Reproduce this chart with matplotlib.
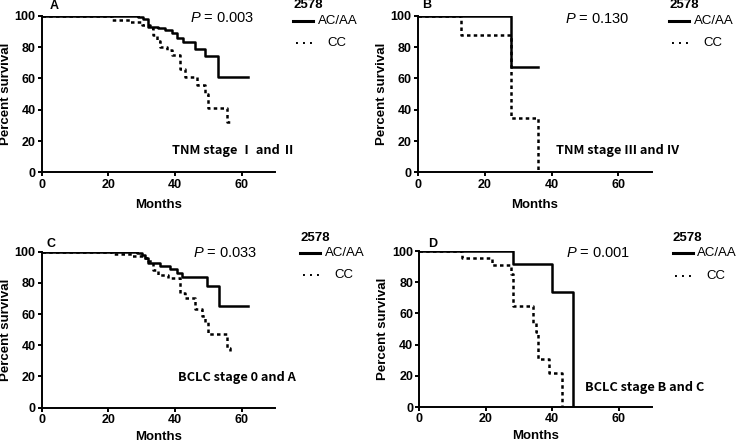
import matplotlib
matplotlib.use("Agg")
import matplotlib.pyplot as plt
from matplotlib.lines import Line2D

plt.rcParams["font.family"] = ["Liberation Sans", "DejaVu Sans"]
plt.rcParams["mathtext.fontset"] = "custom"
plt.rcParams["mathtext.it"] = "Liberation Sans:italic"
plt.rcParams["mathtext.rm"] = "Liberation Sans"

# panel A: TNM stage I and II
a_acaa_t = [0, 29, 30.5, 32, 35, 37, 39, 40.5, 42.5, 46, 49, 53, 62]
a_acaa_s = [100, 99, 98, 93, 92, 91, 89, 86, 83, 79, 74, 61, 61]
a_cc_t = [0, 21, 26.5, 30, 32.5, 33.5, 34.5, 35.5, 37.5, 39, 41.5, 43, 46.5, 49, 50, 55.5, 56.5]
a_cc_s = [100, 97, 96, 94, 92, 88, 84, 80, 78, 75, 66, 61, 56, 50, 41, 32, 30]

# panel B: TNM stage III and IV
b_acaa_t = [0, 28, 36]
b_acaa_s = [100, 67, 67]
b_cc_t = [0, 13, 28, 36]
b_cc_s = [100, 87.5, 35, 0]

# panel C: BCLC stage 0 and A
c_acaa_t = [0, 28.5, 30, 31, 32, 35.5, 38.5, 40.5, 42, 49.5, 53.3, 62]
c_acaa_s = [100, 99, 98, 96, 93, 91, 89, 86.5, 84, 78, 65, 65]
c_cc_t = [0, 21, 27, 30.5, 32, 33.5, 35, 38, 41.5, 43, 46, 48, 49, 50, 55.5, 56.5]
c_cc_s = [100, 98.5, 97.5, 96, 94, 88, 85, 83, 73.5, 70, 63, 59, 55, 47, 38, 35]

# panel D: BCLC stage B and C
d_acaa_t = [0, 28.1, 40, 46.2]
d_acaa_s = [100, 92, 74, 0]
d_cc_t = [0, 13, 21.9, 27.6, 28.1, 34.2, 35.2, 35.8, 39, 43]
d_cc_s = [100, 95.5, 91, 85.5, 65, 54, 48, 31, 22, 0]

panels = [
    ("A", "0.003", "TNM stage \u2160 and \u2161", a_acaa_t, a_acaa_s, a_cc_t, a_cc_s,
     [0.0567, 0.610, 0.317, 0.3544], (44.5, 98.3), (39, 14.2), (0.036, 1.06), (1.077, 1.068), 6),
    ("B", "0.130", "TNM stage \u2162 and \u2163", b_acaa_t, b_acaa_s, b_cc_t, b_cc_s,
     [0.5675, 0.610, 0.3183, 0.3544], (43.9, 98.0), (41.2, 14.2), (0.02, 1.07), (1.073, 1.068), 6),
    ("C", "0.033", "BCLC stage 0 and A", c_acaa_t, c_acaa_s, c_cc_t, c_cc_s,
     [0.0567, 0.0776, 0.317, 0.353], (45.3, 99.0), (40.9, 19.2), (0.02, 1.05), (1.107, 1.09), 3.5),
    ("D", "0.001", "BCLC stage B and C", d_acaa_t, d_acaa_s, d_cc_t, d_cc_s,
     [0.5697, 0.079, 0.316, 0.353], (44.3, 98.5), (49.8, 12.4), (0.036, 1.045), (1.089, 1.085), 3.5),
]

dotted = (0, (1.4, 1.3))

fig = plt.figure(figsize=(7.36, 4.42), dpi=100)
for (lab, pval, stage, st, ss, ct, cs, rect, ppos, spos, lpos, legpos, xpad) in panels:
    ax = fig.add_axes(rect)
    ax.step(st, ss, where="post", color="black", lw=1.8)
    ax.step(ct, cs, where="post", color="black", lw=1.8, linestyle=dotted)
    ax.set_xlim(0, 70)
    ax.set_ylim(0, 100)
    ax.set_xticks([0, 20, 40, 60])
    ax.set_yticks([0, 20, 40, 60, 80, 100])
    for s in ["top", "right"]:
        ax.spines[s].set_visible(False)
    for s in ["left", "bottom"]:
        ax.spines[s].set_linewidth(1.4)
    ax.tick_params(direction="out", length=3, width=1.4, labelsize=9, pad=1.5)
    for t in ax.get_xticklabels() + ax.get_yticklabels():
        t.set_fontweight("bold")
    ax.set_xlabel("Months", fontsize=9.5, fontweight="bold", labelpad=xpad)
    ax.set_ylabel("Percent survival", fontsize=9.5, fontweight="bold", labelpad=2)

    ax.text(lpos[0], lpos[1], lab, transform=ax.transAxes, fontsize=9,
            fontweight="bold", ha="left", va="center")
    ax.text(ppos[0], ppos[1], "$\\it{P}$ = " + pval, fontsize=10.5,
            ha="left", va="center")
    ax.text(spos[0], spos[1], stage, fontsize=9.2, fontweight="bold",
            ha="left", va="center", family=["Noto Sans CJK SC", "DejaVu Sans"])

    lx, ly = legpos
    ax.text(lx, ly, "2578", transform=ax.transAxes, fontsize=9.5,
            fontweight="bold", ha="left", va="center")
    ax.add_line(Line2D([lx, lx + 0.086], [ly - 0.1, ly - 0.1], transform=ax.transAxes,
                       color="black", lw=2.2, clip_on=False))
    ax.text(lx + 0.105, ly - 0.1, "AC/AA", transform=ax.transAxes, fontsize=9.5,
            ha="left", va="center")
    ax.add_line(Line2D([lx + 0.012, lx + 0.088], [ly - 0.242, ly - 0.242],
                       transform=ax.transAxes, color="black", lw=1.4,
                       linestyle=(0, (1.0, 2.6)), clip_on=False))
    ax.text(lx + 0.146, ly - 0.242, "CC", transform=ax.transAxes, fontsize=9.5,
            ha="left", va="center")

fig.savefig("out.png", dpi=100)
